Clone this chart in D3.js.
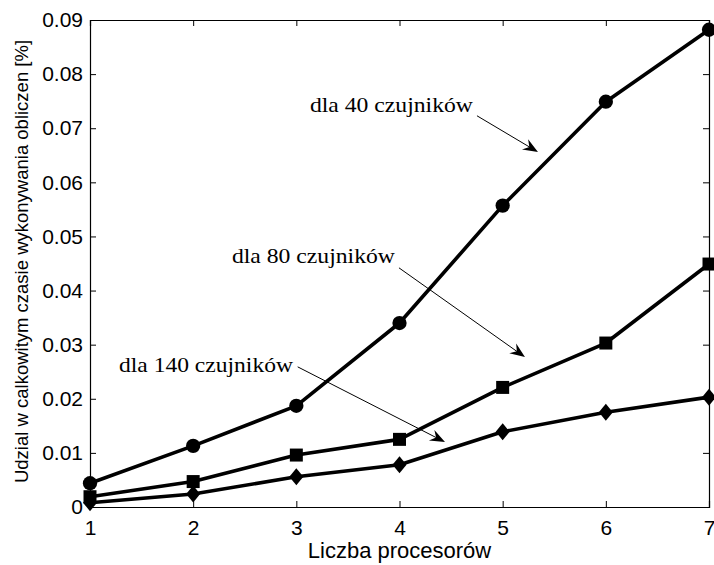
<!DOCTYPE html>
<html>
<head>
<meta charset="utf-8">
<script src="https://cdn.jsdelivr.net/npm/d3@7"></script>
<style>
  body { margin: 0; background: #fff; }
  svg { display: block; }
</style>
</head>
<body>
<div id="chart"></div>
<script>
// data
var processors = [1, 2, 3, 4, 5, 6, 7];
var s40  = [0.0044, 0.0113, 0.0187, 0.0340, 0.0557, 0.0749, 0.0882];
var s80  = [0.0019, 0.0047, 0.0096, 0.0125, 0.0221, 0.0303, 0.0449];
var s140 = [0.0008, 0.0024, 0.0056, 0.0078, 0.0139, 0.0175, 0.0203];
var xTicks = [1, 2, 3, 4, 5, 6, 7];
var yTicks = [0, 0.01, 0.02, 0.03, 0.04, 0.05, 0.06, 0.07, 0.08, 0.09];
var labels = ["dla 40 czujników", "dla 80 czujników", "dla 140 czujników"];
// text anchor, line start, arrow tip (data units)
var labelPos = [[3.132, 0.0730], [2.376, 0.0451], [1.281, 0.0249]];
var arrowFrom = [[4.751, 0.0723], [3.995, 0.0442], [3.013, 0.0259]];
var arrowTo = [[5.342, 0.0656], [5.216, 0.0277], [4.441, 0.0120]];

var width = 714, height = 565;
// plot box (note: "top" is reserved on window, so prefix)
var plotLeft = 90, plotRight = 709, plotTop = 20, plotBottom = 507;

var svg = d3.select("#chart").append("svg")
  .attr("width", width)
  .attr("height", height);

var x = d3.scaleLinear().domain([1, 7]).range([plotLeft, plotRight]);
var y = d3.scaleLinear().domain([0, 0.09]).range([plotBottom, plotTop]);

var fmt = function(d){ return d === 0 ? "0" : d3.format(".2f")(d); };
var tickFont = "Liberation Sans, Arial, sans-serif";

// axes: ticks inward, box on all sides
var xAx = svg.append("g").attr("transform", "translate(0," + plotBottom + ")")
  .call(d3.axisBottom(x).tickValues(xTicks).tickSize(-6).tickPadding(12).tickFormat(d3.format("d")));
var xTop = svg.append("g").attr("transform", "translate(0," + plotTop + ")")
  .call(d3.axisTop(x).tickValues(xTicks).tickSize(-6).tickFormat(""));
var yAx = svg.append("g").attr("transform", "translate(" + plotLeft + ",0)")
  .call(d3.axisLeft(y).tickValues(yTicks).tickSize(-6).tickPadding(7).tickFormat(fmt));
var yRight = svg.append("g").attr("transform", "translate(" + plotRight + ",0)")
  .call(d3.axisRight(y).tickValues(yTicks).tickSize(-6).tickFormat(""));

[xAx, xTop, yAx, yRight].forEach(function(g){
  g.selectAll("path.domain").attr("stroke", "#000").attr("stroke-width", 1.2);
  g.selectAll(".tick line").attr("stroke", "#000").attr("stroke-width", 1);
  g.selectAll(".tick text")
    .attr("fill", "#000")
    .style("font-family", tickFont)
    .style("font-size", "21px");
});
xAx.selectAll(".tick text").attr("dy", "0.75em");

// axis titles
svg.append("text")
  .attr("x", (plotLeft + plotRight) / 2)
  .attr("y", 558)
  .attr("text-anchor", "middle")
  .style("font-family", tickFont)
  .style("font-size", "22px")
  .text("Liczba procesorów");

svg.append("text")
  .attr("transform", "translate(28," + ((plotTop + plotBottom) / 2 - 2) + ") rotate(-90)")
  .attr("text-anchor", "middle")
  .style("font-family", tickFont)
  .style("font-size", "18.5px")
  .text("Udzial w calkowitym czasie wykonywania obliczen [%]");

// series
var line = d3.line()
  .x(function(d){ return x(d[0]); })
  .y(function(d){ return y(d[1]); });

var series = [
  { values: s40, shape: "circle" },
  { values: s80, shape: "square" },
  { values: s140, shape: "diamond" }
];

function markerPath(shape){
  if (shape === "circle") return d3.symbol().type(d3.symbolCircle).size(160)();
  if (shape === "square") return "M-6.5,-6.5H6.5V6.5H-6.5Z";
  return "M0,-8.5L7,0L0,8.5L-7,0Z";
}

var plot = svg.append("g");
series.forEach(function(s){
  var pts = processors.map(function(p, i){ return [p, s.values[i]]; });
  plot.append("path")
    .datum(pts)
    .attr("fill", "none")
    .attr("stroke", "#000")
    .attr("stroke-width", 3.6)
    .attr("stroke-linejoin", "round")
    .attr("d", line);
  plot.selectAll(null)
    .data(pts)
    .enter()
    .append("path")
      .attr("transform", function(d){ return "translate(" + x(d[0]) + "," + y(d[1]) + ")"; })
      .attr("d", markerPath(s.shape))
      .attr("fill", "#000");
});

// annotations
var textWidths = [163, 163, 174];
labels.forEach(function(txt, i){
  svg.append("text")
    .attr("x", x(labelPos[i][0]))
    .attr("y", y(labelPos[i][1]))
    .attr("textLength", textWidths[i])
    .attr("lengthAdjust", "spacingAndGlyphs")
    .style("font-family", "Liberation Serif, Times New Roman, serif")
    .style("font-size", "21px")
    .text(txt);

  var x1 = x(arrowFrom[i][0]), y1 = y(arrowFrom[i][1]);
  var x2 = x(arrowTo[i][0]), y2 = y(arrowTo[i][1]);
  var ang = Math.atan2(y2 - y1, x2 - x1);
  svg.append("line")
    .attr("x1", x1).attr("y1", y1)
    .attr("x2", x2 - 6 * Math.cos(ang)).attr("y2", y2 - 6 * Math.sin(ang))
    .attr("stroke", "#000")
    .attr("stroke-width", 1);
  // swept-back arrow head
  svg.append("path")
    .attr("transform", "translate(" + x2 + "," + y2 + ") rotate(" + (ang * 180 / Math.PI) + ")")
    .attr("d", "M0,0L-15,-6L-10,0L-15,6Z")
    .attr("fill", "#000");
});
</script>
</body>
</html>
